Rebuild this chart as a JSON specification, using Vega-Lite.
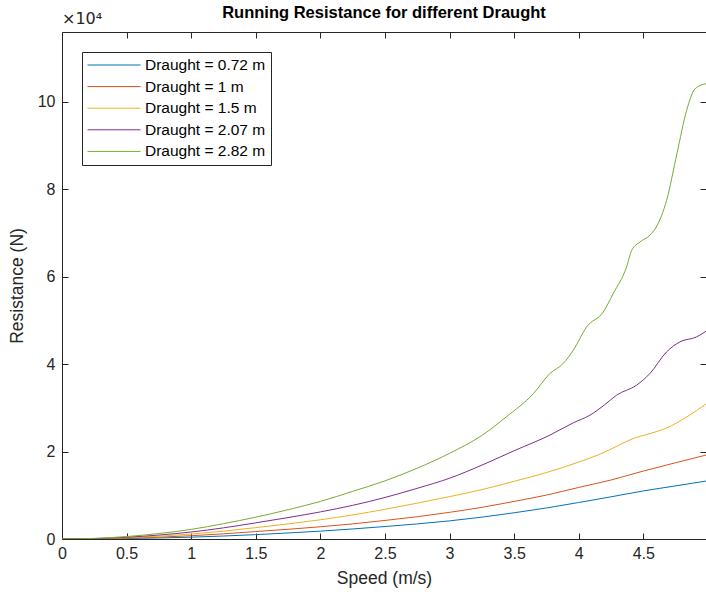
{
  "$schema": "https://vega.github.io/schema/vega-lite/v6.json",
  "width": 644,
  "height": 507,
  "autosize": {"type": "none"},
  "padding": {"left": 62, "top": 32, "right": 0, "bottom": 56},
  "background": "white",
  "title": {"text": "Running Resistance for different Draught", "fontSize": 16.5, "fontWeight": "bold", "font": "Liberation Sans", "color": "#000000", "offset": -10, "anchor": "middle"},
  "config": {
    "view": {"stroke": null},
    "font": "Liberation Sans",
    "axis": {"domainColor": "#262626", "tickColor": "#262626", "labelColor": "#262626", "titleColor": "#262626", "tickSize": -6, "labelFontSize": 16, "titleFontSize": 17.5, "titleFontWeight": "normal", "grid": false, "labelFont": "Liberation Sans", "titleFont": "Liberation Sans", "labelFlush": false, "domainWidth": 1, "tickWidth": 1},
    "legend": {"orient": "top-left", "offset": 20, "strokeColor": "#262626", "fillColor": "white", "padding": 5, "symbolType": "stroke", "symbolSize": 2809, "symbolStrokeWidth": 1, "labelFontSize": 15.5, "labelColor": "#000000", "labelFont": "Liberation Sans", "rowPadding": 4.6, "clipHeight": 16, "labelOffset": 4}
  },
  "data": {"values": [
    {"s": 0, "r": 0, "d": "Draught = 0.72 m"},
    {"s": 0.25, "r": 30, "d": "Draught = 0.72 m"},
    {"s": 0.5, "r": 110, "d": "Draught = 0.72 m"},
    {"s": 0.75, "r": 240, "d": "Draught = 0.72 m"},
    {"s": 1, "r": 420, "d": "Draught = 0.72 m"},
    {"s": 1.25, "r": 680, "d": "Draught = 0.72 m"},
    {"s": 1.5, "r": 1000, "d": "Draught = 0.72 m"},
    {"s": 1.75, "r": 1380, "d": "Draught = 0.72 m"},
    {"s": 2, "r": 1800, "d": "Draught = 0.72 m"},
    {"s": 2.25, "r": 2300, "d": "Draught = 0.72 m"},
    {"s": 2.5, "r": 2850, "d": "Draught = 0.72 m"},
    {"s": 2.75, "r": 3450, "d": "Draught = 0.72 m"},
    {"s": 3, "r": 4150, "d": "Draught = 0.72 m"},
    {"s": 3.25, "r": 5000, "d": "Draught = 0.72 m"},
    {"s": 3.5, "r": 6000, "d": "Draught = 0.72 m"},
    {"s": 3.75, "r": 7100, "d": "Draught = 0.72 m"},
    {"s": 4, "r": 8350, "d": "Draught = 0.72 m"},
    {"s": 4.25, "r": 9650, "d": "Draught = 0.72 m"},
    {"s": 4.5, "r": 11000, "d": "Draught = 0.72 m"},
    {"s": 4.75, "r": 12150, "d": "Draught = 0.72 m"},
    {"s": 4.985, "r": 13250, "d": "Draught = 0.72 m"},
    {"s": 0, "r": 0, "d": "Draught = 1 m"},
    {"s": 0.25, "r": 50, "d": "Draught = 1 m"},
    {"s": 0.5, "r": 190, "d": "Draught = 1 m"},
    {"s": 0.75, "r": 420, "d": "Draught = 1 m"},
    {"s": 1, "r": 750, "d": "Draught = 1 m"},
    {"s": 1.25, "r": 1180, "d": "Draught = 1 m"},
    {"s": 1.5, "r": 1700, "d": "Draught = 1 m"},
    {"s": 1.75, "r": 2220, "d": "Draught = 1 m"},
    {"s": 2, "r": 2800, "d": "Draught = 1 m"},
    {"s": 2.25, "r": 3450, "d": "Draught = 1 m"},
    {"s": 2.5, "r": 4250, "d": "Draught = 1 m"},
    {"s": 2.75, "r": 5100, "d": "Draught = 1 m"},
    {"s": 3, "r": 6100, "d": "Draught = 1 m"},
    {"s": 3.25, "r": 7250, "d": "Draught = 1 m"},
    {"s": 3.5, "r": 8600, "d": "Draught = 1 m"},
    {"s": 3.75, "r": 10050, "d": "Draught = 1 m"},
    {"s": 4, "r": 11800, "d": "Draught = 1 m"},
    {"s": 4.25, "r": 13500, "d": "Draught = 1 m"},
    {"s": 4.5, "r": 15550, "d": "Draught = 1 m"},
    {"s": 4.75, "r": 17450, "d": "Draught = 1 m"},
    {"s": 4.985, "r": 19200, "d": "Draught = 1 m"},
    {"s": 0, "r": 0, "d": "Draught = 1.5 m"},
    {"s": 0.25, "r": 70, "d": "Draught = 1.5 m"},
    {"s": 0.5, "r": 280, "d": "Draught = 1.5 m"},
    {"s": 0.75, "r": 630, "d": "Draught = 1.5 m"},
    {"s": 1, "r": 1130, "d": "Draught = 1.5 m"},
    {"s": 1.25, "r": 1800, "d": "Draught = 1.5 m"},
    {"s": 1.5, "r": 2600, "d": "Draught = 1.5 m"},
    {"s": 1.75, "r": 3450, "d": "Draught = 1.5 m"},
    {"s": 2, "r": 4400, "d": "Draught = 1.5 m"},
    {"s": 2.25, "r": 5500, "d": "Draught = 1.5 m"},
    {"s": 2.5, "r": 6800, "d": "Draught = 1.5 m"},
    {"s": 2.75, "r": 8200, "d": "Draught = 1.5 m"},
    {"s": 3, "r": 9700, "d": "Draught = 1.5 m"},
    {"s": 3.25, "r": 11300, "d": "Draught = 1.5 m"},
    {"s": 3.5, "r": 13200, "d": "Draught = 1.5 m"},
    {"s": 3.75, "r": 15200, "d": "Draught = 1.5 m"},
    {"s": 4, "r": 17600, "d": "Draught = 1.5 m"},
    {"s": 4.164, "r": 19400, "d": "Draught = 1.5 m"},
    {"s": 4.3, "r": 21300, "d": "Draught = 1.5 m"},
    {"s": 4.422, "r": 23000, "d": "Draught = 1.5 m"},
    {"s": 4.55, "r": 24100, "d": "Draught = 1.5 m"},
    {"s": 4.68, "r": 25400, "d": "Draught = 1.5 m"},
    {"s": 4.835, "r": 27900, "d": "Draught = 1.5 m"},
    {"s": 4.985, "r": 30900, "d": "Draught = 1.5 m"},
    {"s": 0, "r": 0, "d": "Draught = 2.07 m"},
    {"s": 0.25, "r": 100, "d": "Draught = 2.07 m"},
    {"s": 0.5, "r": 400, "d": "Draught = 2.07 m"},
    {"s": 0.75, "r": 900, "d": "Draught = 2.07 m"},
    {"s": 1, "r": 1600, "d": "Draught = 2.07 m"},
    {"s": 1.25, "r": 2550, "d": "Draught = 2.07 m"},
    {"s": 1.5, "r": 3700, "d": "Draught = 2.07 m"},
    {"s": 1.75, "r": 4900, "d": "Draught = 2.07 m"},
    {"s": 2, "r": 6200, "d": "Draught = 2.07 m"},
    {"s": 2.25, "r": 7700, "d": "Draught = 2.07 m"},
    {"s": 2.5, "r": 9500, "d": "Draught = 2.07 m"},
    {"s": 2.75, "r": 11600, "d": "Draught = 2.07 m"},
    {"s": 3, "r": 13900, "d": "Draught = 2.07 m"},
    {"s": 3.25, "r": 16900, "d": "Draught = 2.07 m"},
    {"s": 3.5, "r": 20200, "d": "Draught = 2.07 m"},
    {"s": 3.777, "r": 23770, "d": "Draught = 2.07 m"},
    {"s": 3.958, "r": 26590, "d": "Draught = 2.07 m"},
    {"s": 4.087, "r": 28340, "d": "Draught = 2.07 m"},
    {"s": 4.2, "r": 30700, "d": "Draught = 2.07 m"},
    {"s": 4.293, "r": 32910, "d": "Draught = 2.07 m"},
    {"s": 4.448, "r": 35200, "d": "Draught = 2.07 m"},
    {"s": 4.551, "r": 37870, "d": "Draught = 2.07 m"},
    {"s": 4.68, "r": 42810, "d": "Draught = 2.07 m"},
    {"s": 4.783, "r": 45100, "d": "Draught = 2.07 m"},
    {"s": 4.912, "r": 46240, "d": "Draught = 2.07 m"},
    {"s": 4.985, "r": 47540, "d": "Draught = 2.07 m"},
    {"s": 0, "r": 0, "d": "Draught = 2.82 m"},
    {"s": 0.25, "r": 140, "d": "Draught = 2.82 m"},
    {"s": 0.5, "r": 560, "d": "Draught = 2.82 m"},
    {"s": 0.75, "r": 1250, "d": "Draught = 2.82 m"},
    {"s": 1, "r": 2200, "d": "Draught = 2.82 m"},
    {"s": 1.25, "r": 3500, "d": "Draught = 2.82 m"},
    {"s": 1.5, "r": 5000, "d": "Draught = 2.82 m"},
    {"s": 1.75, "r": 6700, "d": "Draught = 2.82 m"},
    {"s": 2, "r": 8600, "d": "Draught = 2.82 m"},
    {"s": 2.25, "r": 10900, "d": "Draught = 2.82 m"},
    {"s": 2.5, "r": 13300, "d": "Draught = 2.82 m"},
    {"s": 2.75, "r": 16200, "d": "Draught = 2.82 m"},
    {"s": 3, "r": 19600, "d": "Draught = 2.82 m"},
    {"s": 3.25, "r": 23700, "d": "Draught = 2.82 m"},
    {"s": 3.44, "r": 27960, "d": "Draught = 2.82 m"},
    {"s": 3.65, "r": 33300, "d": "Draught = 2.82 m"},
    {"s": 3.777, "r": 37870, "d": "Draught = 2.82 m"},
    {"s": 3.88, "r": 40160, "d": "Draught = 2.82 m"},
    {"s": 3.958, "r": 43200, "d": "Draught = 2.82 m"},
    {"s": 4.061, "r": 48530, "d": "Draught = 2.82 m"},
    {"s": 4.19, "r": 51960, "d": "Draught = 2.82 m"},
    {"s": 4.267, "r": 56160, "d": "Draught = 2.82 m"},
    {"s": 4.37, "r": 62240, "d": "Draught = 2.82 m"},
    {"s": 4.41, "r": 66060, "d": "Draught = 2.82 m"},
    {"s": 4.474, "r": 67960, "d": "Draught = 2.82 m"},
    {"s": 4.55, "r": 69490, "d": "Draught = 2.82 m"},
    {"s": 4.6, "r": 71380, "d": "Draught = 2.82 m"},
    {"s": 4.68, "r": 77490, "d": "Draught = 2.82 m"},
    {"s": 4.76, "r": 88160, "d": "Draught = 2.82 m"},
    {"s": 4.835, "r": 98060, "d": "Draught = 2.82 m"},
    {"s": 4.9, "r": 103000, "d": "Draught = 2.82 m"},
    {"s": 4.985, "r": 104160, "d": "Draught = 2.82 m"}
  ]},
  "layer": [
    {
      "mark": {"type": "line", "interpolate": "monotone", "strokeWidth": 1, "clip": true},
      "encoding": {
        "x": {"field": "s", "type": "quantitative", "scale": {"domain": [0, 4.985], "nice": false, "zero": false},
              "axis": {"orient": "bottom", "title": "Speed (m/s)", "values": [0, 0.5, 1, 1.5, 2, 2.5, 3, 3.5, 4, 4.5], "format": "~g", "labelPadding": 12, "titlePadding": 8}},
        "y": {"field": "r", "type": "quantitative", "scale": {"domain": [0, 116000], "nice": false, "zero": false},
              "axis": {"orient": "left", "title": "Resistance (N)", "values": [0, 20000, 40000, 60000, 80000, 100000], "labelExpr": "format(datum.value / 10000, 'd')", "labelPadding": 13, "titlePadding": 11}},
        "color": {"field": "d", "type": "nominal", "title": null,
                  "scale": {"domain": ["Draught = 0.72 m", "Draught = 1 m", "Draught = 1.5 m", "Draught = 2.07 m", "Draught = 2.82 m"],
                            "range": ["#0072BD", "#D95319", "#EDB120", "#7E2F8E", "#77AC30"]}}
      }
    },
    {
      "mark": {"type": "line", "strokeOpacity": 0},
      "encoding": {
        "x": {"field": "s", "type": "quantitative", "axis": {"orient": "top", "title": null, "labels": false, "values": [0, 0.5, 1, 1.5, 2, 2.5, 3, 3.5, 4, 4.5]}},
        "y": {"field": "r", "type": "quantitative", "axis": {"orient": "right", "title": null, "labels": false, "domain": false, "values": [0, 20000, 40000, 60000, 80000, 100000]}},
        "detail": {"field": "d"}
      }
    },
    {
      "data": {"values": [{}]},
      "mark": {"type": "text", "text": "×10⁴", "align": "left", "baseline": "bottom", "dy": -5, "dx": 0, "fontSize": 16, "color": "#262626", "font": "DejaVu Sans"},
      "encoding": {
        "x": {"datum": 0, "type": "quantitative", "axis": null},
        "y": {"datum": 116000, "type": "quantitative", "axis": null}
      }
    }
  ],
  "resolve": {"axis": {"x": "independent", "y": "independent"}}
}
